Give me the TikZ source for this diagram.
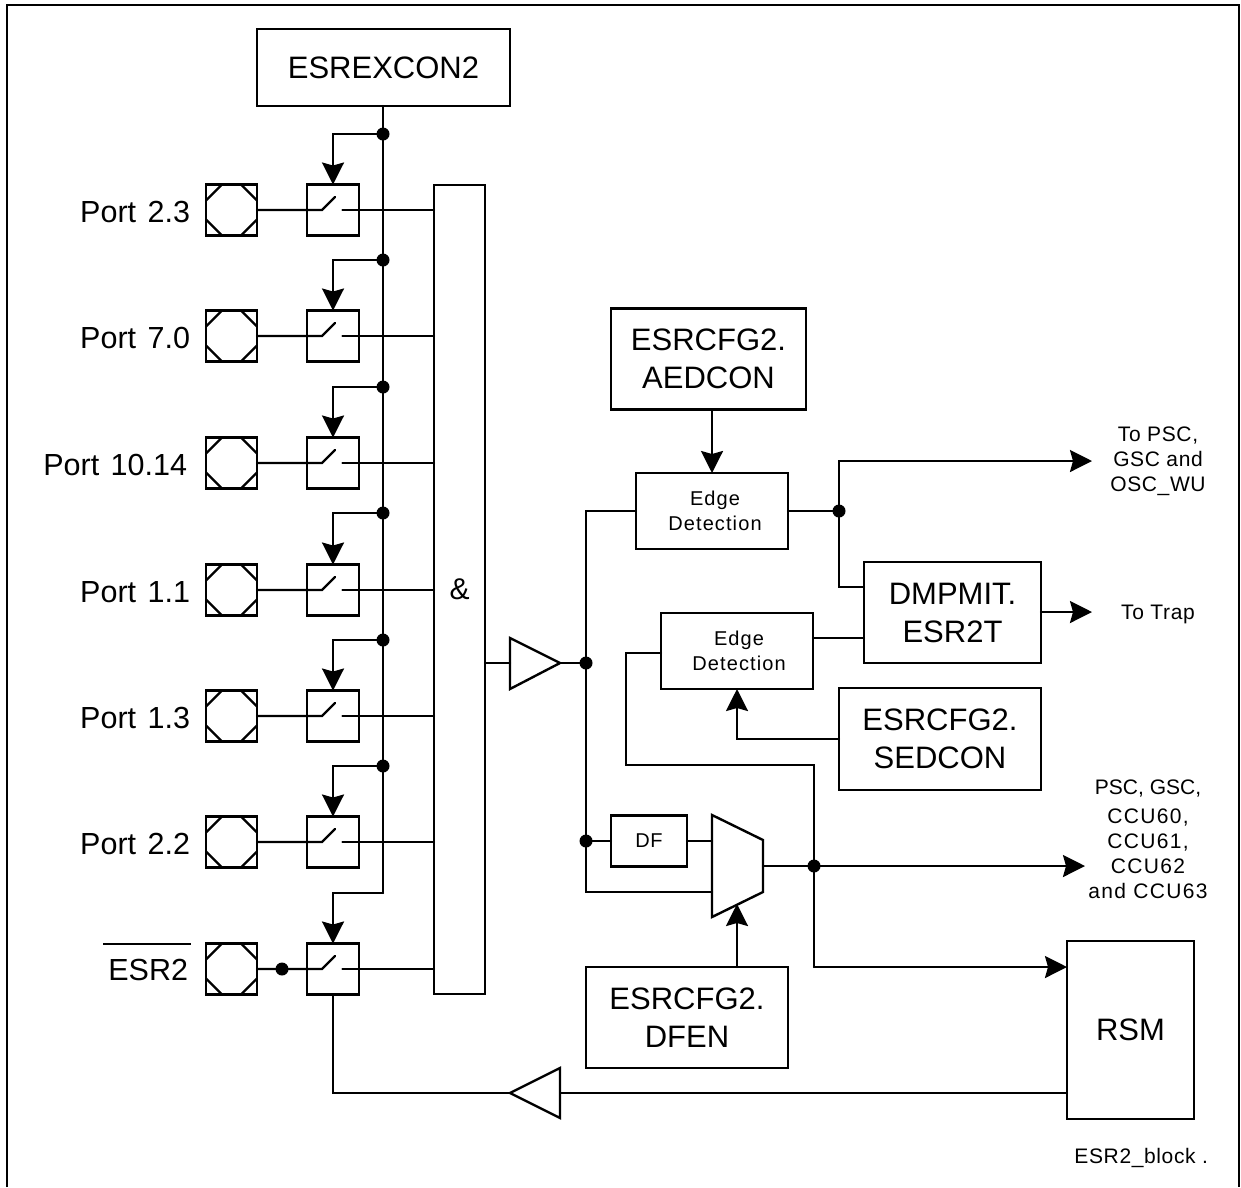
\documentclass[tikz,border=0pt]{standalone}
\usepackage{fontspec}
\setmainfont{Liberation Sans}
\newfontfamily\spacedA[LetterSpace=3]{Liberation Sans}
\newfontfamily\spacedB[LetterSpace=5.5]{Liberation Sans}
\newfontfamily\spacedC[LetterSpace=6.5]{Liberation Sans}
\newfontfamily\portfam[WordSpace=1.35]{Liberation Sans}
\usetikzlibrary{arrows.meta,calc}
\tikzset{
  wire/.style={line width=2.4pt,line cap=round,line join=miter},
  arr/.style={wire,-{Stealth[length=22pt,width=22pt,inset=3pt]}},
  blk/.style={draw,line width=2.4pt,inner sep=0pt,outer sep=0pt,align=center,fill=white,font=\fontsize{31}{38}\selectfont},
  sq/.style={blk,minimum width=51pt,minimum height=51pt},
  edgebox/.style={blk,minimum width=152pt,minimum height=76pt,font=\spacedB\fontsize{20}{25.3}\selectfont},
  lab/.style={inner sep=0pt,outer sep=0pt,align=center,font=\portfam\fontsize{30.5}{36}\selectfont},
  small/.style={inner sep=0pt,outer sep=0pt,align=center,font=\spacedA\fontsize{21}{25}\selectfont},
  dot/.style={circle,fill=black,draw=none,inner sep=0pt,outer sep=0pt,minimum size=13pt},
  tri/.style={wire,fill=white,line join=miter}
}
\begin{document}
\begin{tikzpicture}[x=1pt,y=-1pt]
\useasboundingbox (0,0) rectangle (1241,1187);
% frame
\draw[line width=2.4pt] (7,1187) -- (7,5) -- (1239,5) -- (1239,1187);
% main blocks
\node[blk,minimum width=253pt,minimum height=77pt] (esrex) at (383.5,67.5) {ESREXCON2};
\node[blk,minimum width=51pt,minimum height=809pt,font=\fontsize{30}{36}\selectfont] (bar) at (459.5,589.5) {\&};
% bus
\coordinate (busend) at (383,893);
\draw[wire] (esrex.south -| busend) -- (busend);
% rows
\foreach \i/\y/\t/\tx in {1/210/Port 2.3/190,2/336/Port 7.0/190,3/463/Port 10.14/187,4/590/Port 1.1/190,5/716/Port 1.3/190,6/842/Port 2.2/190,7/969/{}/190}{
  \node[sq] (pad\i) at (231.5,\y) {};
  \node[sq,minimum width=52pt] (sw\i) at (333,\y) {};
  \draw[line width=2.4pt] (pad\i.north west) ++(0,16) -- ++(16,-16);
  \draw[line width=2.4pt] (pad\i.north east) ++(0,16) -- ++(-16,-16);
  \draw[line width=2.4pt] (pad\i.south west) ++(0,-16) -- ++(16,16);
  \draw[line width=2.4pt] (pad\i.south east) ++(0,-16) -- ++(-16,16);
  \draw[wire] (pad\i.east) -- ($(sw\i.center)+(-11,0)$) -- ++(13,-13);
  \draw[wire] ($(sw\i.center)+(9.5,0)$) -- (sw\i.center -| bar.west);
  \node[lab,anchor=east] (plab\i) at (\tx,\y+2) {\t};
}
% branches from bus
\foreach \i/\y in {1/134,2/260,3/387,4/513,5/640,6/766}{
  \node[dot] (bd\i) at (383,\y) {};
  \draw[arr] (bd\i.center) -| (sw\i.north);
}
\draw[arr] (busend) -| (sw7.north);
\node[dot] (esrdot) at (282,969) {};
\node[lab,anchor=east] (esrlab) at (188,970) {ESR2};
\coordinate (ovl) at (103,944);
\coordinate (ovr) at (191,944);
\draw[line width=2pt] (ovl) -- (ovr);
% buffer
\coordinate (buftip) at (560,663);
\coordinate (bufin) at (510,663);
\draw[tri] (510,638) -- (buftip) -- (510,689) -- cycle;
\draw[wire] (bar.east |- bufin) -- (bufin);
\node[dot] (n1) at (586,663) {};
\draw[wire] (buftip) -- (n1.center);
% edge detection
\node[edgebox] (ed1) at (712,511) {\hspace*{6pt}Edge\\\hspace*{6pt}Detection};
\node[edgebox,minimum height=76pt] (ed2) at (737,651) {\hspace*{4pt}Edge\\\hspace*{4pt}Detection};
\node[blk,minimum width=195pt,minimum height=101pt] (aed) at (708.5,359) {ESRCFG2.\\AEDCON};
\node[blk,minimum width=177pt,minimum height=101pt] (dmp) at (952.5,612.5) {DMPMIT.\\ESR2T};
\node[blk,minimum width=202pt,minimum height=102pt] (sed) at (940,739) {ESRCFG2.\\SEDCON};
\node[blk,minimum width=202pt,minimum height=101pt] (dfen) at (687,1017.5) {ESRCFG2.\\DFEN};
\node[blk,minimum width=76pt,minimum height=51pt,font=\spacedA\fontsize{20}{24}\selectfont] (df) at (649,841) {DF};
\node[blk,minimum width=127pt,minimum height=178pt] (rsm) at (1130.5,1030) {RSM};
% mux
\coordinate (mA) at (712,815);
\coordinate (mB) at (763,840);
\coordinate (mC) at (763,892);
\coordinate (mD) at (712,917);
\coordinate (mOut) at (763,866);
\draw[wire,fill=white] (mA) -- (mB) -- (mC) -- (mD) -- cycle;
% left vertical
\coordinate (vtop) at (586,511);
\coordinate (vbot) at (586,892);
\node[dot] (n2) at (586,841) {};
\draw[wire] (ed1.west) -- (vtop) -- (vbot) -- (mD |- vbot);
\draw[wire] (n2.center) -- (df.west);
\draw[wire] (df.east) -- (df.east -| mA);
% aedcon
\draw[arr] (aed.south -| ed1.north) -- (ed1.north);
% edge1 output
\node[dot] (n3) at (839,511) {};
\coordinate (to1) at (1092,461);
\draw[wire] (ed1.east) -- (n3.center);
\draw[arr] (n3.center) |- (to1);
\coordinate (dj) at (864,587);
\draw[wire] (n3.center) |- (dj);
% edge2 output
\coordinate (e2o) at (813,638);
\draw[wire] (e2o -| ed2.east) -- (e2o -| dmp.west);
% trap
\coordinate (to2) at (1092,612);
\draw[arr] (dmp.east |- to2) -- (to2);
% sedcon
\draw[arr] (sed.west) -| (ed2.south);
% mux out
\coordinate (to3) at (1085,866);
\node[dot] (n4) at (814,866) {};
\draw[arr] (mOut) -- (to3);
% edge2 loop
\coordinate (l1) at (626,653);
\coordinate (l2) at (626,765);
\coordinate (l3) at (814,765);
\coordinate (l4) at (814,967);
\draw[wire] (ed2.west |- l1) -- (l1) -- (l2) -- (l3) -- (l4);
\draw[arr] (l4) -- (l4 -| rsm.west);
% dfen arrow
\draw[arr] (dfen.north -| 737,0) -- (737,904);
% rsm return
\coordinate (rt) at (560,1093);
\coordinate (rtip) at (510,1093);
\draw[wire] (rsm.west |- rt) -- (rt);
\draw[tri] (560,1068) -- (rtip) -- (560,1118) -- cycle;
\draw[wire] (rtip) -| (sw7.south);
% right labels
\node[small] (t1) at (1158,461) {To PSC,\\GSC and\\OSC\_WU};
\node[small] (t2) at (1158,614) {To Trap};
\node[small,font=\spacedC\fontsize{21}{25}\selectfont] (t3) at (1148,839) {{\rmfamily PSC, GSC,}\\[4pt]CCU60,\\CCU61,\\CCU62\\and CCU63};
\node[small,anchor=east] (t4) at (1208,1158) {ESR2\_block .};
\end{tikzpicture}
\end{document}
